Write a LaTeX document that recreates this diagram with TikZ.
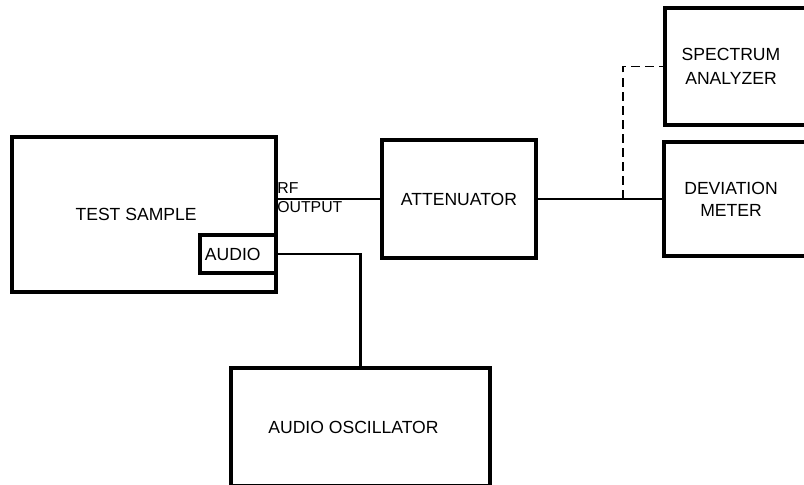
\documentclass[tikz,border=0pt]{standalone}
\usepackage{fontspec}
\setmainfont{Liberation Sans}
\usepackage{tikz}
\usetikzlibrary{positioning}

\begin{document}
\begin{tikzpicture}[x=0.02cm, y=0.02cm,
  box/.style={draw, line width=2pt, inner sep=0pt, align=center,
    font=\fontsize{10}{13}\selectfont},
  wire/.style={line width=1.4pt},
  tapline/.style={line width=0.9pt, dash pattern=on 5pt off 3pt}]

  \useasboundingbox (0,0) rectangle (804,484);
  \clip (0,0) rectangle (804,484);

  % test sample with its audio port
  \node[box, minimum width=5.28cm, minimum height=3.1cm] (ts) at (144,269.5) {TEST SAMPLE\hspace*{9pt}};
  \node[box, minimum width=1.52cm, minimum height=0.76cm] (audio) at (238,230) {AUDIO\hspace*{6pt}};
  \node[anchor=west, align=left, inner sep=0pt,
    font=\fontsize{9}{10.8}\selectfont] (rf) at (277,286.5) {RF\\OUTPUT};

  % attenuator
  \node[box, minimum width=3.08cm, minimum height=2.36cm] (att) at (459,285) {ATTENUATOR};

  % meters on the right (cut by the page edge)
  \node[box, minimum width=4.72cm, minimum height=2.34cm,
    label={[align=center, xshift=-1.04cm, font=\fontsize{10}{14}\selectfont]center:SPECTRUM\\ANALYZER}]
    (sa) at (783,417.5) {};
  \node[box, minimum width=4.72cm, minimum height=2.28cm,
    label={[align=center, xshift=-1.02cm, font=\fontsize{10}{12.5}\selectfont]center:DEVIATION\\METER}]
    (dm) at (782,285) {};

  % audio oscillator
  \node[box, minimum width=5.18cm, minimum height=2.36cm] (osc) at (360.5,57) {AUDIO OSCILLATOR\hspace*{8pt}};

  % connections
  \coordinate (tap) at (623,285);
  \draw[wire] (att.west -| ts.east) -- (att.west);
  \draw[wire] (att.east) -- (dm.west);
  \draw[tapline] (tap) |- (sa.west);
  \draw[wire] (audio.east) -| (osc.north);
\end{tikzpicture}
\end{document}
